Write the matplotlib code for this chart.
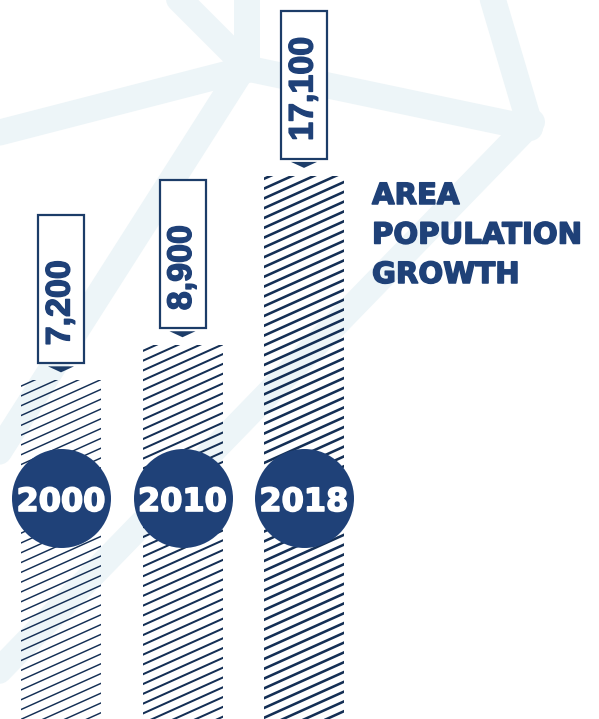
import matplotlib
matplotlib.use('Agg')
import matplotlib.pyplot as plt
import matplotlib.patheffects as pe
import numpy as np
from matplotlib.patches import Rectangle, Polygon
from matplotlib.collections import LineCollection
from matplotlib.transforms import IdentityTransform

# ---------------- data ----------------
years = ['2000', '2010', '2018']
values = [7200, 8900, 17100]
value_labels = ['7,200', '8,900', '17,100']
title_lines = ['AREA', 'POPULATION', 'GROWTH']

# ---------------- style ----------------
W, H = 599, 719
NAVY = '#1f4178'
HATCH = '#142f55'
BOX_EDGE = '#1c3c68'
BAND = '#edf5f8'

fig = plt.figure(figsize=(W / 100, H / 100), dpi=100)
fig.patch.set_facecolor('white')

# ---------------- background decoration (pixel coords, y down) ----------------
bg = fig.add_axes([0, 0, 1, 1], zorder=0)
bg.set_xlim(0, W)
bg.set_ylim(H, 0)
bg.axis('off')
bands = [
    ((-10, 135), (242, 70)),
    ((170, -10), (242, 62)),
    ((247, -10), (247, 70)),
    ((245, 68), (530, 128)),
    ((490, -10), (530, 125)),
    ((532, 122), (-5, 675)),
    ((242, 70), (-5, 458)),
]
for (x0, y0), (x1, y1) in bands:
    bg.plot([x0, x1], [y0, y1], color=BAND, lw=26 * 0.72,
            solid_capstyle='round', solid_joinstyle='round')

# ---------------- main axes ----------------
ax = fig.add_axes([0, 0, 1, 1], zorder=1)
ax.patch.set_alpha(0)
ax.axis('off')

spacing_px = 121.5          # pixel distance between bar centres
px_per_unit = 0.02065       # pixels per population unit
base = -9200                # value at the bottom edge of the picture
ax.set_xlim(-61 / spacing_px, (W - 61) / spacing_px)
ax.set_ylim(base, base + H / px_per_unit)
upp = 1 / px_per_unit       # data units per pixel (y)
xpp = 1 / spacing_px        # data units per pixel (x)

x = np.arange(len(values))
vals = np.array(values, dtype=float)
bars = ax.bar(x, vals - base, bottom=base, width=80 * xpp,
              color='none', edgecolor='none')

# diagonal hatch drawn as lines clipped to each bar
slope = 0.45
gap = 9.8
segs = [[(0, k * gap), (W, k * gap + W * slope)] for k in range(-40, 90)]
for bar, lw in zip(bars, [1.05, 1.45, 1.85]):
    lc = LineCollection(segs, colors=HATCH, linewidths=lw,
                        transform=IdentityTransform(), zorder=2)
    ax.add_collection(lc, autolim=False)
    lc.set_clip_path(bar)

# callout boxes with values
for xi, v, lab in zip(x, vals, value_labels):
    bw = 46 * xpp
    b0 = v + 17 * upp
    bh = 148 * upp
    ax.add_patch(Rectangle((xi - bw / 2, b0), bw, bh, facecolor='white',
                           edgecolor=BOX_EDGE, lw=1.6, zorder=3))
    ax.add_patch(Polygon([(xi - 13 * xpp, b0 - 3 * upp),
                          (xi + 13 * xpp, b0 - 3 * upp),
                          (xi, b0 - 9 * upp)], closed=True,
                         facecolor=BOX_EDGE, edgecolor='none', zorder=3))
    ax.text(xi, b0 + 18 * upp, lab, rotation=90, ha='center', va='bottom',
            fontsize=24.5, fontweight='bold', family='Liberation Sans',
            color=NAVY, zorder=4,
            path_effects=[pe.withStroke(linewidth=1.0, foreground=NAVY)])

# year circles
xt = ax.get_xaxis_transform()
ax.scatter(x, [1 - 498 / H] * len(x), s=(99 * 0.72) ** 2, color=NAVY,
           transform=xt, zorder=5, linewidths=0)
for xi, yr in zip(x, years):
    ax.text(xi, 1 - 511 / H, yr, transform=xt, ha='center', va='baseline',
            fontsize=23, fontweight='bold', family='DejaVu Sans',
            color='white', zorder=6,
            path_effects=[pe.withStroke(linewidth=1.2, foreground='white')])

# title
for i, line in enumerate(title_lines):
    fig.text(372 / W, 1 - (204 + 39.5 * i) / H, line, ha='left', va='baseline',
             fontsize=21, fontweight='bold', family='DejaVu Sans', color=NAVY,
             path_effects=[pe.withStroke(linewidth=1.1, foreground=NAVY)])

fig.savefig('out.png', dpi=100, facecolor='white')
